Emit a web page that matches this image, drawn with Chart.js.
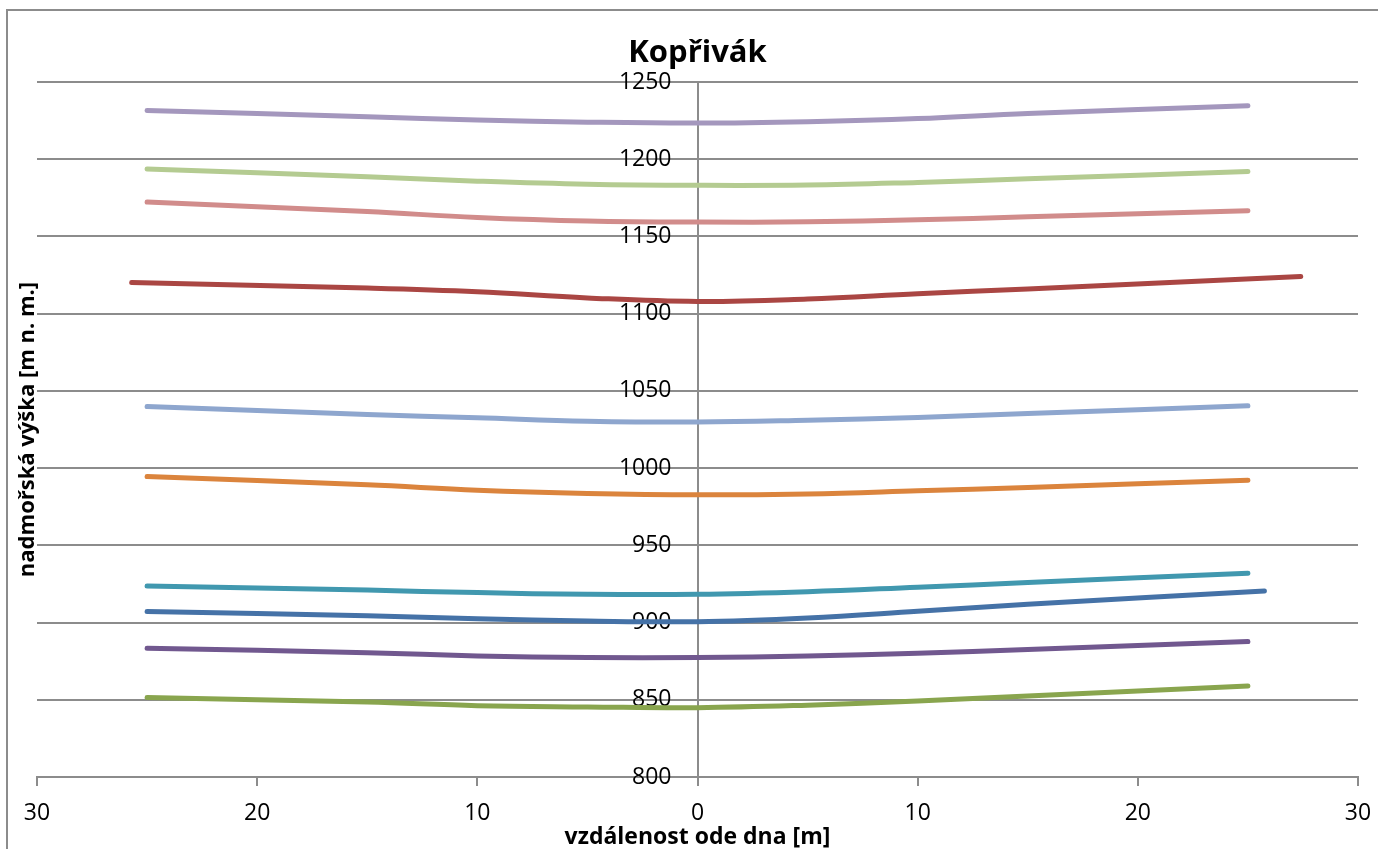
<!DOCTYPE html>
<html>
<head>
<meta charset="utf-8">
<script src="https://cdn.jsdelivr.net/npm/chart.js@4"></script>
<style>
  html, body { margin: 0; padding: 0; overflow: hidden; background: #fff; }
  canvas { position: absolute; left: 0; top: 0; }
  #ramecek { position: absolute; left: 6px; top: 9px; width: 1500px; height: 1000px;
    border-left: 2px solid #8c8c8c; border-top: 2px solid #8c8c8c; pointer-events: none; }
</style>
</head>
<body>
<canvas id="graf" width="1395" height="849"></canvas>
<div id="ramecek"></div>
<script>
// vzdálenosti od dna [m] (vlevo záporné)
const xZakladni = [-25, -15, -10, -5, 0, 5, 10, 15, 25];
const xCervena = [-25.7, -15, -10, -5, 0, 5, 10, 15, 27.4];
const xModra = [-25, -15, -10, -5, 0, 5, 10, 15, 25.75];

// nadmořské výšky profilů [m n. m.]
const vysModra = [907.1, 904.4, 902.4, 901.0, 900.6, 903.0, 907.3, 911.8, 920.5];
const vysCervena = [1120.2, 1116.6, 1114.2, 1110.2, 1107.9, 1109.5, 1112.9, 1116.0, 1124.1];
const vysZelena = [851.4, 848.5, 846.2, 845.4, 844.9, 846.5, 849.2, 852.4, 859.0];
const vysFialova = [883.4, 880.5, 878.4, 877.3, 877.3, 878.3, 880.1, 882.6, 887.7];
const vysTyrkys = [923.7, 921.0, 919.4, 918.3, 918.3, 920.0, 922.9, 925.9, 932.0];
const vysOranzova = [994.5, 989.2, 985.7, 983.6, 982.7, 983.3, 985.3, 987.5, 992.2];
const vysSvModra = [1039.9, 1034.7, 1032.6, 1030.4, 1029.8, 1031.0, 1032.8, 1035.4, 1040.3];
const vysRuzova = [1172.3, 1166.1, 1162.3, 1160.0, 1159.3, 1159.5, 1160.8, 1162.7, 1166.7];
const vysSvZelena = [1193.7, 1188.6, 1185.8, 1183.8, 1183.1, 1183.3, 1185.0, 1187.3, 1192.1];
const vysLevandule = [1231.6, 1227.5, 1225.4, 1224.0, 1223.4, 1224.3, 1226.3, 1229.6, 1234.7];

const nazvy = ['profil 1', 'profil 2', 'profil 3', 'profil 4', 'profil 5',
               'profil 6', 'profil 7', 'profil 8', 'profil 9', 'profil 10'];
const osyX = [xModra, xCervena, xZakladni, xZakladni, xZakladni,
              xZakladni, xZakladni, xZakladni, xZakladni, xZakladni];
const vysky = [vysModra, vysCervena, vysZelena, vysFialova, vysTyrkys,
               vysOranzova, vysSvModra, vysRuzova, vysSvZelena, vysLevandule];
const barvy = ['#4572A7', '#AA4643', '#89A54E', '#71588F', '#4198AF',
               '#DB843D', '#8EA6CE', '#D18C8B', '#B4CB91', '#A497BD'];

const seda = '#8c8c8c';
Chart.defaults.font.family = "'Open Sans', sans-serif";
Chart.defaults.color = '#000';

const datasets = vysky.map((vys, i) => ({
  label: nazvy[i],
  data: vys.map((v, j) => ({ x: osyX[i][j], y: v })),
  borderColor: barvy[i],
  backgroundColor: barvy[i]
}));

// popisky svislé osy leží vlevo od osy (26 px), převedeno na jednotky osy x
const posunPopisku = -26 / (1321 / 60);

new Chart(document.getElementById('graf'), {
  type: 'line',
  data: { datasets },
  options: {
    responsive: false,
    animation: false,
    layout: { padding: 0 },
    elements: {
      point: { radius: 0 },
      line: { tension: 0.4, borderWidth: 5, borderCapStyle: 'round', borderJoinStyle: 'round' }
    },
    plugins: {
      legend: { display: false },
      tooltip: { enabled: false },
      title: {
        display: true,
        text: 'Kopřivák',
        font: { size: 31, weight: 'bold' },
        color: '#000',
        padding: { top: 34.4, bottom: 10.4 }
      }
    },
    scales: {
      x: {
        type: 'linear', min: -30, max: 30, position: 'bottom',
        afterFit: s => { s.height = 72; },
        ticks: { stepSize: 10, padding: 14, font: { size: 23 }, maxRotation: 0,
                 callback: v => String(Math.abs(v)) },
        grid: { drawOnChartArea: false, tickLength: 9, color: seda, lineWidth: 2 },
        border: { color: seda, width: 2 },
        title: { display: true, text: 'vzdálenost ode dna [m]',
                 font: { size: 23, weight: 'bold', lineHeight: 1 }, padding: { top: 0, bottom: 0 } }
      },
      y: {
        type: 'linear', min: 800, max: 1250, position: { x: 0 },
        ticks: { stepSize: 50, display: false },
        grid: { color: seda, lineWidth: 2, tickLength: 9 },
        border: { color: seda, width: 2 }
      },
      yPopisky: {
        type: 'linear', min: 800, max: 1250, position: { x: posunPopisku }, z: 1,
        ticks: { stepSize: 50, padding: 0, font: { size: 23 }, callback: v => String(v) },
        grid: { display: false, drawTicks: false },
        border: { display: false }
      },
      yNazev: {
        type: 'linear', min: 0, max: 1, position: 'left',
        afterFit: s => { s.width = 37; },
        ticks: { display: false },
        grid: { display: false, drawTicks: false },
        border: { display: false },
        title: { display: true, text: 'nadmořská výška [m n. m.]',
                 font: { size: 22, weight: 'bold' }, padding: { top: 15, bottom: 0 } }
      },
      yPravy: {
        type: 'linear', min: 0, max: 1, position: 'right',
        afterFit: s => { s.width = 37; },
        ticks: { display: false },
        grid: { display: false, drawTicks: false },
        border: { display: false }
      }
    }
  }
});
</script>
</body>
</html>
